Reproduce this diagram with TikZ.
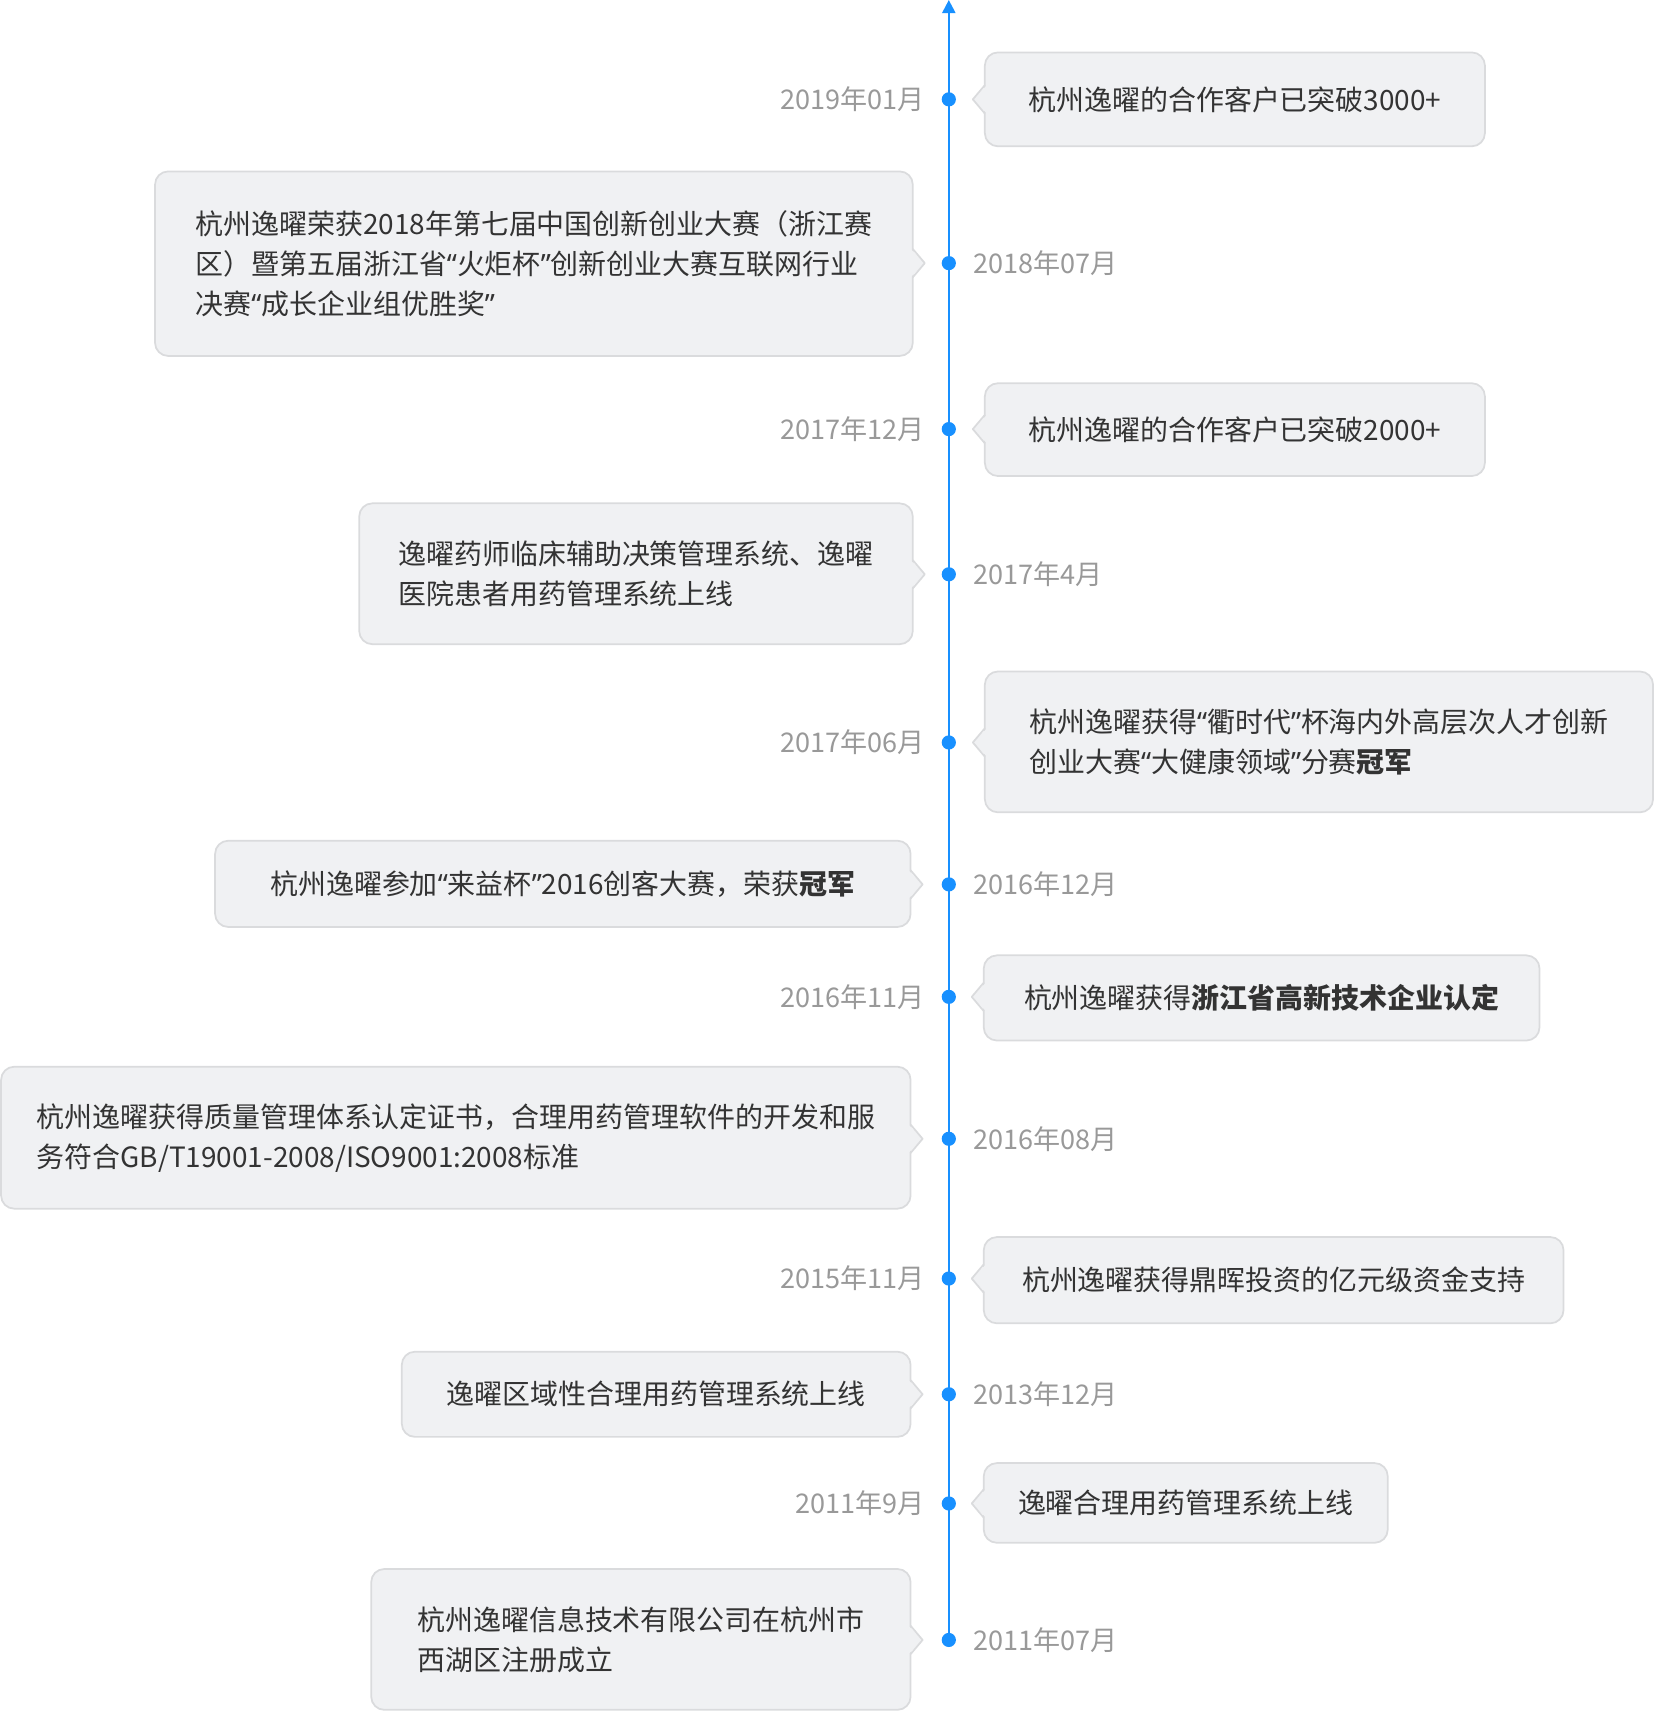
\documentclass[tikz,border=0pt]{standalone}
\usepackage{fontspec}
\setmainfont{Noto Sans CJK SC}
\newfontfamily\qfont{Noto Sans}
\newcommand\tlq{{\qfont “}}
\newcommand\trq{{\qfont ”}}
\usetikzlibrary{arrows.meta}
\definecolor{axisblue}{HTML}{1890FF}
\definecolor{boxfill}{HTML}{F0F1F3}
\definecolor{boxborder}{HTML}{DADBDD}
\definecolor{textdark}{HTML}{333333}
\definecolor{dategray}{HTML}{999999}
\tikzset{
  evbox/.style={draw=boxborder, fill=boxfill, line width=0.8pt, rounded corners=6pt,
    align=left, text=textdark, inner sep=0pt, font=\fontsize{12.8}{18.3}\selectfont},
  datel/.style={text=dategray, inner sep=0pt, font=\fontsize{12.4}{15}\selectfont},
  tldot/.style={circle, fill=axisblue, minimum size=6.5pt, inner sep=0pt},
  boxline/.style={draw=boxborder, line width=0.8pt, line join=round},
  axisline/.style={draw=axisblue, line width=1pt}
}
\newcommand\eventright[8]{%
  \node[tldot] (#1dot) at (869,#2) {};
  \node[datel, anchor=east] (#1date) at (847,#2) {#8};
  \node[evbox, minimum width={(#5-#3)*0.5pt}, minimum height={(#6-#4)*0.5pt}] (#1box) at ({(#3+#5)/2},{(#4+#6)/2}) {#7};
  \fill[boxfill] (#3+2,#2-13) -- (#3-11,#2) -- (#3+2,#2+13) -- cycle;
  \draw[boxline] (#3,#2-13) -- (#3-11,#2) -- (#3,#2+13);
}
\newcommand\eventleft[8]{%
  \node[tldot] (#1dot) at (869,#2) {};
  \node[datel, anchor=west] (#1date) at (891,#2) {#8};
  \node[evbox, minimum width={(#5-#3)*0.5pt}, minimum height={(#6-#4)*0.5pt}] (#1box) at ({(#3+#5)/2},{(#4+#6)/2}) {#7};
  \fill[boxfill] (#5-2,#2-13) -- (#5+11,#2) -- (#5-2,#2+13) -- cycle;
  \draw[boxline] (#5,#2-13) -- (#5+11,#2) -- (#5,#2+13);
}
\begin{document}
\begin{tikzpicture}[x=0.5pt,y=-0.5pt]
\useasboundingbox (0,0) rectangle (1516,1568);
\coordinate (axistop) at (869,0);
\coordinate (axisbottom) at (869,1502);
\draw[axisline, -{Triangle[width=6pt,length=6pt]}] (axisbottom) -- (axistop);

\eventright{e1}{91}{902}{48}{1360}{134}{杭州逸曜的合作客户已突破3000+}{2019年01月}
\eventleft{e2}{241}{142}{157}{836}{326}{杭州逸曜荣获2018年第七届中国创新创业大赛（浙江赛\\区）暨第五届浙江省\tlq 火炬杯\trq 创新创业大赛互联网行业\\决赛\tlq 成长企业组优胜奖\trq}{2018年07月}
\eventright{e3}{393}{902}{351}{1360}{436}{杭州逸曜的合作客户已突破2000+}{2017年12月}
\eventleft{e4}{526}{329}{461}{836}{590}{逸曜药师临床辅助决策管理系统、逸曜\\医院患者用药管理系统上线}{2017年4月}
\eventright{e5}{680}{902}{615}{1514}{744}{杭州逸曜获得\tlq 衢时代\trq 杯海内外高层次人才创新\\创业大赛\tlq 大健康领域\trq 分赛\textbf{冠军}}{2017年06月}
\eventleft{e6}{810}{197}{770}{834}{849}{杭州逸曜参加\tlq 来益杯\trq 2016创客大赛，荣获\textbf{冠军}}{2016年12月}
\eventright{e7}{913}{901}{875}{1410}{953}{杭州逸曜获得\textbf{浙江省高新技术企业认定}}{2016年11月}
\eventleft{e8}{1043}{1}{977}{834}{1107}{杭州逸曜获得质量管理体系认定证书，合理用药管理软件的开发和服\\务符合GB/T19001-2008/ISO9001:2008标准}{2016年08月}
\eventright{e9}{1171}{901}{1133}{1432}{1212}{杭州逸曜获得鼎晖投资的亿元级资金支持}{2015年11月}
\eventleft{e10}{1277}{368}{1238}{834}{1316}{逸曜区域性合理用药管理系统上线}{2013年12月}
\eventright{e11}{1377}{901}{1340}{1271}{1413}{逸曜合理用药管理系统上线}{2011年9月}
\eventleft{e12}{1502}{340}{1437}{834}{1566}{杭州逸曜信息技术有限公司在杭州市\\西湖区注册成立}{2011年07月}
\end{tikzpicture}
\end{document}
